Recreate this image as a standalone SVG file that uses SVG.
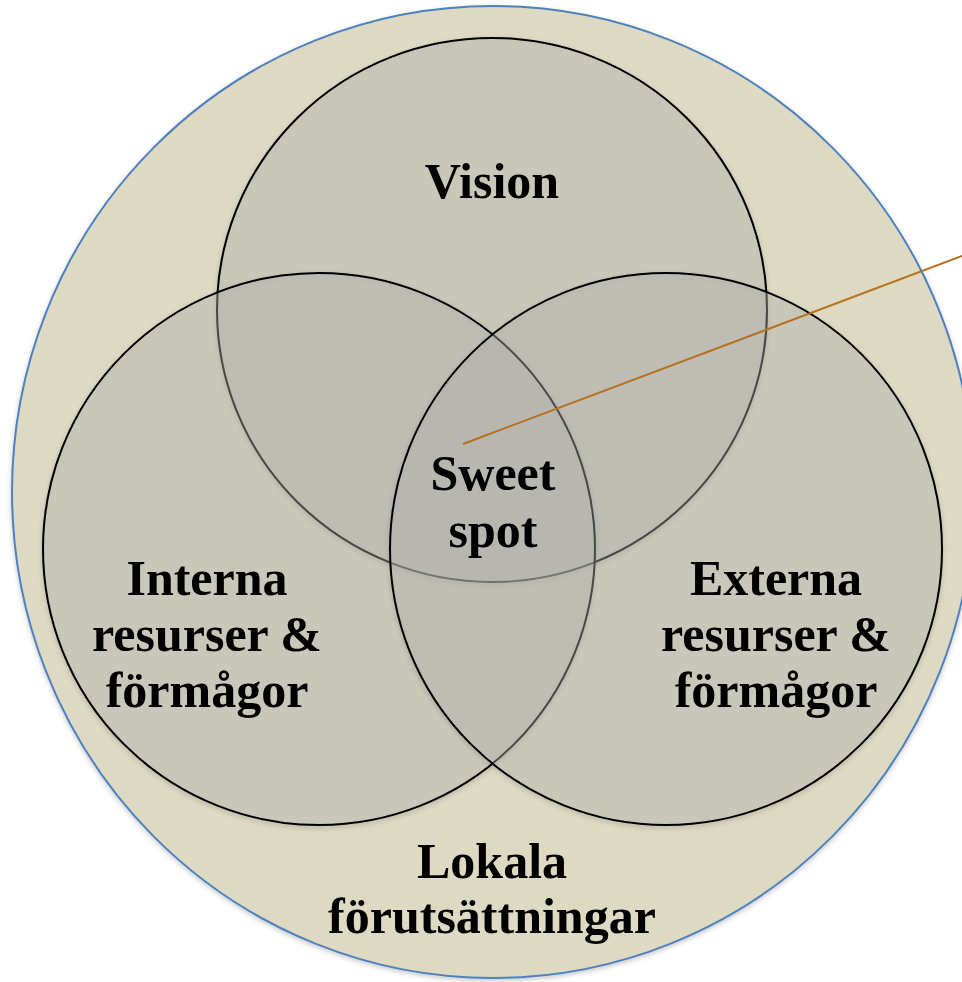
<svg xmlns="http://www.w3.org/2000/svg" width="962" height="982" viewBox="0 0 962 982">
<defs>
<filter id="sh" x="-10%" y="-10%" width="120%" height="120%">
<feDropShadow dx="0" dy="2" stdDeviation="2.5" flood-color="#000" flood-opacity="0.22"/>
</filter>
<style>
.outer{fill:#DDD9C3;stroke:#4F81BD;stroke-width:2}
.c{fill:#B8B8B4;fill-opacity:0.36;stroke:#000;stroke-width:2}
.t{font-family:"Liberation Serif","Times New Roman",serif;font-weight:bold;font-size:50px;fill:#000;text-anchor:middle}
.lead{stroke:#B5711E;stroke-width:2;fill:none}
</style>
</defs>
<rect width="962" height="982" fill="#fff"/>
<g id="lokala">
<ellipse class="outer" cx="493" cy="492" rx="481" ry="486" filter="url(#sh)"/>
<text class="t" x="492" y="878">Lokala</text>
<text class="t" x="492" y="933">förutsättningar</text>
</g>
<g id="vision">
<ellipse class="c" cx="492" cy="310" rx="275" ry="272" filter="url(#sh)"/>
</g>
<g id="interna">
<circle class="c" cx="319" cy="549" r="276" filter="url(#sh)"/>
</g>
<g id="externa">
<circle class="c" cx="666" cy="549" r="276" filter="url(#sh)"/>
</g>
<g id="labels">
<text class="t" x="492" y="198">Vision</text>
<text class="t" x="207" y="595">Interna</text>
<text class="t" x="207" y="651">resurser &amp;</text>
<text class="t" x="207" y="707">förmågor</text>
<text class="t" x="776" y="595">Externa</text>
<text class="t" x="776" y="651">resurser &amp;</text>
<text class="t" x="776" y="707">förmågor</text>
</g>
<g id="connectors">
<line class="lead" x1="463" y1="444" x2="962" y2="256"/>
</g>
<g id="sweetspot">
<text class="t" x="493" y="490">Sweet</text>
<text class="t" x="493" y="547">spot</text>
</g>
</svg>
